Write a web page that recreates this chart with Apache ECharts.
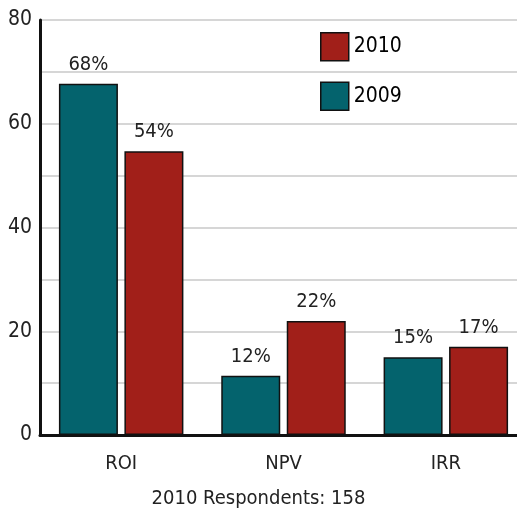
<!DOCTYPE html>
<html lang="en">
<head>
    <meta charset="UTF-8">
    <title>Respondents</title>
    <script src="https://cdn.jsdelivr.net/npm/echarts@6/dist/echarts.min.js"></script>
    <style>
        html, body { margin: 0; padding: 0; background: #fff; }
        #chart { width: 517px; height: 514px; }
    </style>
</head>
<body>
    <div id="chart"></div>
    <script>
        var categories = ['ROI', 'NPV', 'IRR']
        var values2009 = [67.7, 11.4, 15]
        var values2010 = [54.7, 22, 17]
        var labels2009 = ['68%', '12%', '15%']
        var labels2010 = ['54%', '22%', '17%']

        var font = '"Liberation Sans Narrow", "DejaVu Sans Condensed", Roboto, sans-serif'
        var teal = '#04636d'
        var red = '#a11f19'

        function barSeries(name, data, labels, color) {
            return {
                name: name,
                type: 'bar',
                barWidth: 59,
                barGap: '11%',
                data: data,
                itemStyle: { color: color, borderColor: '#111', borderWidth: 1.5 },
                label: {
                    show: true,
                    position: 'top',
                    distance: 9,
                    fontFamily: font,
                    fontSize: 20,
                    color: '#222',
                    formatter: function (p) { return labels[p.dataIndex] }
                }
            }
        }

        var chart = echarts.init(document.getElementById('chart'))
        chart.setOption({
            animation: false,
            textStyle: { fontFamily: font },
            title: {
                text: '2010 Respondents: 158',
                left: 'center',
                bottom: 0,
                textStyle: { fontFamily: font, fontSize: 20, fontWeight: 'normal', color: '#222' }
            },
            legend: {
                data: ['2010', '2009'],
                orient: 'vertical',
                left: 315,
                top: 27,
                icon: 'rect',
                itemWidth: 28,
                itemHeight: 28,
                itemGap: 20,
                textStyle: { fontFamily: font, fontSize: 21, color: '#000' },
                itemStyle: { borderColor: '#111', borderWidth: 1.5 }
            },
            grid: { left: 40, width: 487, top: 20, bottom: 79, outerBoundsMode: 'none', containLabel: false },
            xAxis: {
                type: 'category',
                data: categories,
                axisLine: { lineStyle: { color: '#111', width: 3 } },
                axisTick: { show: false },
                axisLabel: { fontFamily: font, fontSize: 20, color: '#222', margin: 19 }
            },
            yAxis: {
                type: 'value',
                min: 0,
                max: 80,
                interval: 10,
                axisLine: { show: true, lineStyle: { color: '#111', width: 3 } },
                axisTick: { show: false },
                splitLine: { lineStyle: { color: '#c8c8c8', width: 1.5 } },
                axisLabel: {
                    fontFamily: font,
                    fontSize: 21,
                    color: '#222',
                    margin: 8,
                    formatter: function (v) { return v % 20 === 0 ? v : '' }
                }
            },
            series: [
                barSeries('2009', values2009, labels2009, teal),
                barSeries('2010', values2010, labels2010, red)
            ]
        })
    </script>
</body>
</html>
